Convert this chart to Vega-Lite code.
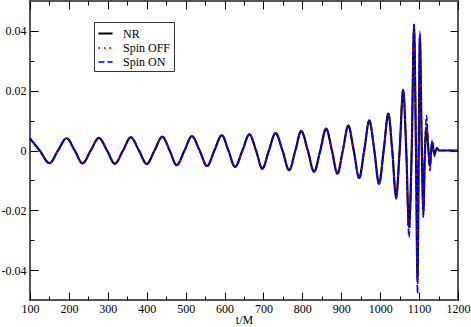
{
  "$schema": "https://vega.github.io/schema/vega-lite/v6.json",
  "width": 428,
  "height": 299,
  "autosize": "none",
  "padding": {"left": 30, "top": 1, "right": 13, "bottom": 27},
  "config": {
    "font": "Liberation Serif",
    "view": {"stroke": "#555", "strokeWidth": 2},
    "axis": {"domain": false, "grid": false, "tickColor": "#000", "tickWidth": 1, "labelColor": "#000", "labelFontSize": 12, "titleFontSize": 12, "titleFontWeight": "normal", "titleColor": "#000", "labelFlush": false, "labelOverlap": false}
  },
  "data": {"values": [
    {"t": 100, "NR": 0.0040, "Spin OFF": 0.0040, "Spin ON": 0.0040},
    {"t": 125, "NR": 0, "Spin OFF": 0, "Spin ON": 0},
    {"t": 150, "NR": -0.0042, "Spin OFF": -0.0042, "Spin ON": -0.0042},
    {"t": 172, "NR": 0, "Spin OFF": 0, "Spin ON": 0},
    {"t": 194, "NR": 0.0041, "Spin OFF": 0.0041, "Spin ON": 0.0041},
    {"t": 215, "NR": 0, "Spin OFF": 0, "Spin ON": 0},
    {"t": 235, "NR": -0.0043, "Spin OFF": -0.0043, "Spin ON": -0.0043},
    {"t": 256, "NR": 0, "Spin OFF": 0, "Spin ON": 0},
    {"t": 277, "NR": 0.0042, "Spin OFF": 0.0042, "Spin ON": 0.0042},
    {"t": 298, "NR": 0, "Spin OFF": 0, "Spin ON": 0},
    {"t": 318, "NR": -0.0044, "Spin OFF": -0.0044, "Spin ON": -0.0044},
    {"t": 339, "NR": 0, "Spin OFF": 0, "Spin ON": 0},
    {"t": 359, "NR": 0.0044, "Spin OFF": 0.0044, "Spin ON": 0.0044},
    {"t": 380, "NR": 0, "Spin OFF": 0, "Spin ON": 0},
    {"t": 400, "NR": -0.0045, "Spin OFF": -0.0045, "Spin ON": -0.0045},
    {"t": 420, "NR": 0, "Spin OFF": 0, "Spin ON": 0},
    {"t": 440, "NR": 0.0046, "Spin OFF": 0.0046, "Spin ON": 0.0046},
    {"t": 459, "NR": 0, "Spin OFF": 0, "Spin ON": 0},
    {"t": 477, "NR": -0.0049, "Spin OFF": -0.0049, "Spin ON": -0.0049},
    {"t": 497, "NR": 0, "Spin OFF": 0, "Spin ON": 0},
    {"t": 516, "NR": 0.0048, "Spin OFF": 0.0048, "Spin ON": 0.0048},
    {"t": 536, "NR": 0, "Spin OFF": 0, "Spin ON": 0},
    {"t": 555, "NR": -0.0052, "Spin OFF": -0.0052, "Spin ON": -0.0052},
    {"t": 574, "NR": 0, "Spin OFF": 0, "Spin ON": 0},
    {"t": 593, "NR": 0.0051, "Spin OFF": 0.0051, "Spin ON": 0.0051},
    {"t": 610, "NR": 0, "Spin OFF": 0, "Spin ON": 0},
    {"t": 627, "NR": -0.0055, "Spin OFF": -0.0055, "Spin ON": -0.0055},
    {"t": 646, "NR": 0, "Spin OFF": 0, "Spin ON": 0},
    {"t": 664, "NR": 0.0054, "Spin OFF": 0.0054, "Spin ON": 0.0054},
    {"t": 681, "NR": 0, "Spin OFF": 0, "Spin ON": 0},
    {"t": 697, "NR": -0.0061, "Spin OFF": -0.0061, "Spin ON": -0.0061},
    {"t": 714, "NR": 0, "Spin OFF": 0, "Spin ON": 0},
    {"t": 731, "NR": 0.0058, "Spin OFF": 0.0058, "Spin ON": 0.0059},
    {"t": 749, "NR": 0, "Spin OFF": 0, "Spin ON": 0},
    {"t": 766, "NR": -0.0066, "Spin OFF": -0.0066, "Spin ON": -0.0066},
    {"t": 782, "NR": 0, "Spin OFF": 0, "Spin ON": 0},
    {"t": 797, "NR": 0.0065, "Spin OFF": 0.0065, "Spin ON": 0.0066},
    {"t": 814, "NR": 0, "Spin OFF": 0, "Spin ON": 0},
    {"t": 830, "NR": -0.0071, "Spin OFF": -0.0071, "Spin ON": -0.0072},
    {"t": 846, "NR": 0, "Spin OFF": 0, "Spin ON": 0},
    {"t": 861, "NR": 0.0073, "Spin OFF": 0.0073, "Spin ON": 0.0074},
    {"t": 876, "NR": 0, "Spin OFF": 0, "Spin ON": 0},
    {"t": 890, "NR": -0.0077, "Spin OFF": -0.0077, "Spin ON": -0.0078},
    {"t": 904, "NR": 0, "Spin OFF": 0, "Spin ON": 0},
    {"t": 918, "NR": 0.0083, "Spin OFF": 0.0083, "Spin ON": 0.0084},
    {"t": 932, "NR": 0, "Spin OFF": 0, "Spin ON": 0},
    {"t": 946, "NR": -0.0092, "Spin OFF": -0.0092, "Spin ON": -0.0094},
    {"t": 959, "NR": 0, "Spin OFF": 0, "Spin ON": 0},
    {"t": 972, "NR": 0.0100, "Spin OFF": 0.0100, "Spin ON": 0.0101},
    {"t": 985, "NR": 0, "Spin OFF": 0, "Spin ON": 0},
    {"t": 997, "NR": -0.0111, "Spin OFF": -0.0112, "Spin ON": -0.0114},
    {"t": 1009, "NR": 0, "Spin OFF": 0, "Spin ON": 0},
    {"t": 1021, "NR": 0.0123, "Spin OFF": 0.0123, "Spin ON": 0.0125},
    {"t": 1031, "NR": 0, "Spin OFF": 0, "Spin ON": 0},
    {"t": 1041, "NR": -0.0155, "Spin OFF": -0.0158, "Spin ON": -0.0162},
    {"t": 1050, "NR": 0, "Spin OFF": 0, "Spin ON": 0},
    {"t": 1059, "NR": 0.0200, "Spin OFF": 0.0202, "Spin ON": 0.0205},
    {"t": 1067, "NR": 0, "Spin OFF": 0, "Spin ON": 0},
    {"t": 1074, "NR": -0.0255, "Spin OFF": -0.0268, "Spin ON": -0.0290},
    {"t": 1081, "NR": 0, "Spin OFF": 0, "Spin ON": 0},
    {"t": 1087, "NR": 0.0405, "Spin OFF": 0.0412, "Spin ON": 0.0428},
    {"t": 1092, "NR": 0, "Spin OFF": 0, "Spin ON": 0},
    {"t": 1096, "NR": -0.0425, "Spin OFF": -0.0440, "Spin ON": -0.0478},
    {"t": 1099, "NR": 0, "Spin OFF": 0, "Spin ON": 0},
    {"t": 1102, "NR": 0.0375, "Spin OFF": 0.0382, "Spin ON": 0.0397},
    {"t": 1107, "NR": 0, "Spin OFF": 0, "Spin ON": 0},
    {"t": 1111, "NR": -0.0200, "Spin OFF": -0.0210, "Spin ON": -0.0225},
    {"t": 1115, "NR": 0, "Spin OFF": 0, "Spin ON": 0},
    {"t": 1119, "NR": 0.0075, "Spin OFF": 0.0090, "Spin ON": 0.0117},
    {"t": 1124, "NR": 0, "Spin OFF": 0, "Spin ON": 0},
    {"t": 1128, "NR": -0.0050, "Spin OFF": -0.0058, "Spin ON": -0.0068},
    {"t": 1131, "NR": 0, "Spin OFF": 0, "Spin ON": 0},
    {"t": 1134, "NR": 0.0025, "Spin OFF": 0.0030, "Spin ON": 0.0035},
    {"t": 1137, "NR": 0, "Spin OFF": 0, "Spin ON": 0},
    {"t": 1140, "NR": -0.0012, "Spin OFF": -0.0015, "Spin ON": -0.0020},
    {"t": 1143, "NR": 0, "Spin OFF": 0, "Spin ON": 0},
    {"t": 1146, "NR": 0.0006, "Spin OFF": 0.0008, "Spin ON": 0.0010},
    {"t": 1152, "NR": 0, "Spin OFF": 0, "Spin ON": 0},
    {"t": 1200, "NR": 0, "Spin OFF": 0, "Spin ON": 0}
  ]},
  "transform": [{"fold": ["NR", "Spin OFF", "Spin ON"], "as": ["series", "h"]}],
  "layer": [
    {
      "mark": {"type": "line", "interpolate": "monotone"},
      "encoding": {
        "x": {"field": "t", "type": "quantitative", "scale": {"domain": [100, 1200], "nice": false, "zero": false},
              "axis": {"orient": "bottom", "values": [100,200,300,400,500,600,700,800,900,1000,1100,1200], "tickSize": -8, "labelPadding": 11, "format": "d", "title": "t/M", "titlePadding": 0}},
        "y": {"field": "h", "type": "quantitative", "scale": {"domain": [-0.05, 0.05], "nice": false},
              "axis": {"orient": "left", "values": [-0.04,-0.02,0,0.02,0.04], "tickSize": -8, "labelPadding": 12, "title": null, "labelExpr": "datum.value == 0 ? '0' : replace(format(datum.value, '.2f'), '−', '-')"}},
        "color": {"field": "series", "type": "nominal",
                  "scale": {"domain": ["NR", "Spin OFF", "Spin ON"], "range": ["#000000", "#ff0000", "#0000ff"]},
                  "legend": {"orient": "none", "legendX": 64, "legendY": 21, "title": null, "strokeColor": "#333", "fillColor": "#ffffff", "padding": 3, "symbolType": "stroke", "symbolStrokeWidth": 2, "symbolSize": 200, "labelFontSize": 12, "labelOffset": 9, "rowPadding": 0}},
        "strokeDash": {"field": "series", "type": "nominal",
                  "scale": {"domain": ["NR", "Spin OFF", "Spin ON"], "range": [[1, 0], [1.5, 4], [6, 3]]},
                  "legend": {"orient": "none", "legendX": 64, "legendY": 21, "title": null, "strokeColor": "#333", "fillColor": "#ffffff", "padding": 3, "symbolType": "stroke", "symbolStrokeWidth": 2, "symbolSize": 200, "labelFontSize": 12, "labelOffset": 9, "rowPadding": 0}},
        "strokeWidth": {"field": "series", "type": "nominal", "scale": {"domain": ["NR", "Spin OFF", "Spin ON"], "range": [2.2, 1.5, 2]}, "legend": null}
      }
    },
    {
      "mark": {"type": "point", "opacity": 0},
      "encoding": {
        "x": {"field": "t", "type": "quantitative", "scale": {"domain": [100, 1200], "nice": false, "zero": false},
              "axis": {"orient": "bottom", "values": [150,250,350,450,550,650,750,850,950,1050,1150], "tickSize": -4, "labels": false, "title": null}},
        "y": {"field": "h", "type": "quantitative", "scale": {"domain": [-0.05, 0.05], "nice": false},
              "axis": {"orient": "left", "values": [-0.03,-0.01,0.01,0.03], "tickSize": -4, "labels": false, "title": null}}
      }
    },
    {
      "mark": {"type": "point", "opacity": 0},
      "encoding": {
        "x": {"field": "t", "type": "quantitative", "scale": {"domain": [100, 1200], "nice": false, "zero": false},
              "axis": {"orient": "top", "values": [100,200,300,400,500,600,700,800,900,1000,1100,1200], "tickSize": -8, "labels": false, "title": null}},
        "y": {"field": "h", "type": "quantitative", "scale": {"domain": [-0.05, 0.05], "nice": false},
              "axis": {"orient": "right", "values": [-0.04,-0.02,0,0.02,0.04], "tickSize": -8, "labels": false, "title": null}}
      }
    },
    {
      "mark": {"type": "point", "opacity": 0},
      "encoding": {
        "x": {"field": "t", "type": "quantitative", "scale": {"domain": [100, 1200], "nice": false, "zero": false},
              "axis": {"orient": "top", "values": [150,250,350,450,550,650,750,850,950,1050,1150], "tickSize": -4, "labels": false, "title": null}},
        "y": {"field": "h", "type": "quantitative", "scale": {"domain": [-0.05, 0.05], "nice": false},
              "axis": {"orient": "right", "values": [-0.03,-0.01,0.01,0.03], "tickSize": -4, "labels": false, "title": null}}
      }
    }
  ],
  "resolve": {"axis": {"x": "independent", "y": "independent"}}
}
